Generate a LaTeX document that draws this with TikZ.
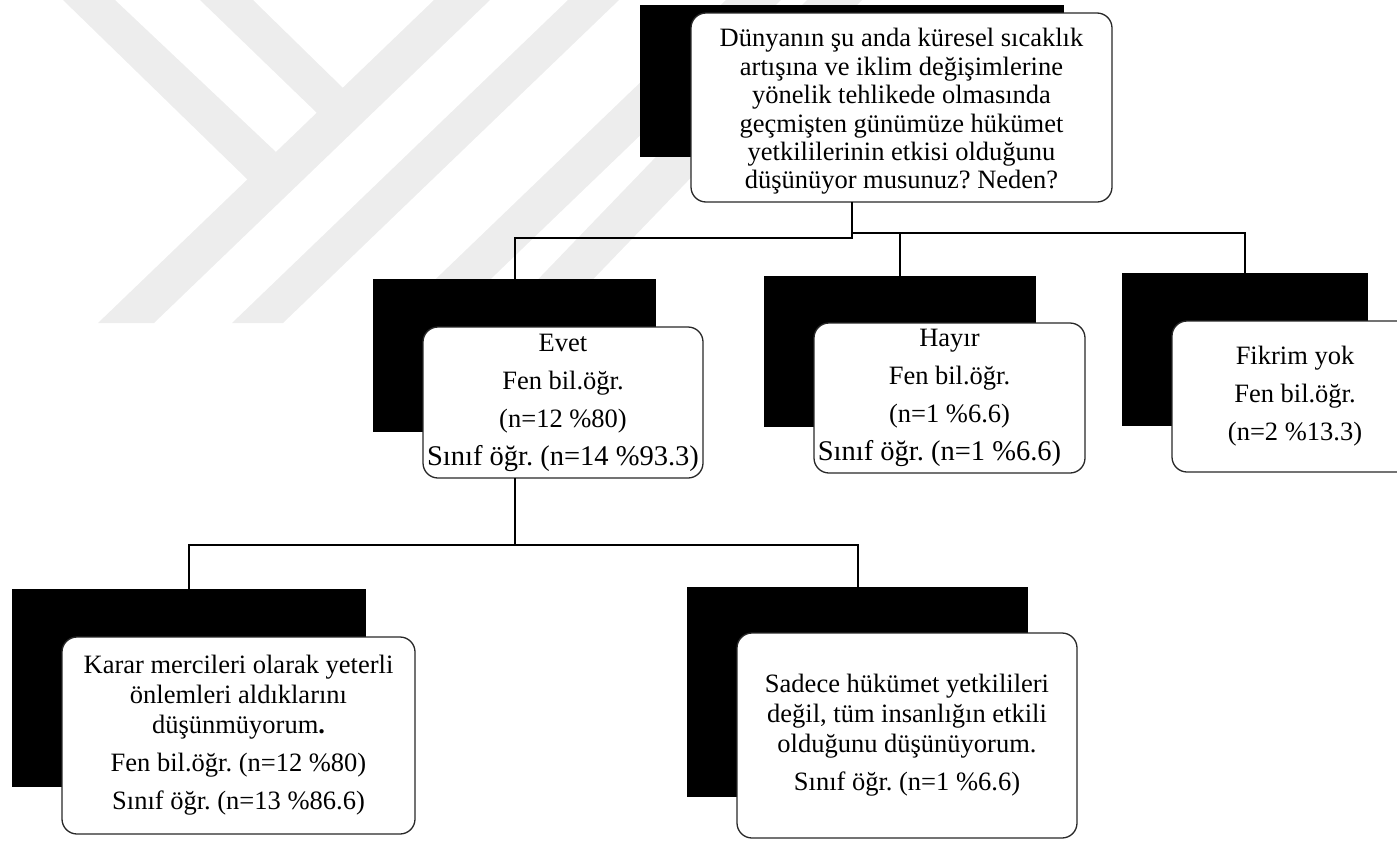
\documentclass[tikz,border=0pt]{standalone}
\usepackage{fontspec}
\setmainfont{Liberation Serif}
\frenchspacing
\definecolor{mark}{RGB}{237,237,237}
\definecolor{edge}{RGB}{40,40,40}
% slightly larger type for the count lines
\newcommand{\countline}[1]{{\fontsize{28.5}{30}\selectfont #1}}
\begin{document}
\begin{tikzpicture}[x=1pt,y=-1pt,
  shade box/.style={fill=black, draw=none, inner sep=0pt, outer sep=0pt},
  card/.style={draw=edge, line width=1.3pt, fill=white, rounded corners=15pt,
    inner sep=0pt, outer sep=0pt, align=center,
    font=\fontsize{26.5}{30}\selectfont},
  words/.style={inner sep=0pt, align=center, font=\fontsize{26.5}{28.4}\selectfont},
  link/.style={line width=2pt, black},
  band/.style={fill=mark, draw=none}]
\useasboundingbox (0,0) rectangle (1397,841);

% faint emblem in the background
\fill[band] (63,0) -- (115,0) -- (276,152) -- (248,180) -- cycle;
\fill[band] (200,0) -- (253,0) -- (343,88) -- (317,113) -- cycle;
\fill[band] (98,323) -- (154,323) -- (490,0) -- (434,0) -- cycle;
\fill[band] (232,323) -- (283,323) -- (619,0) -- (568,0) -- cycle;
\fill[band] (390,323) -- (445,323) -- (781,0) -- (726,0) -- cycle;
\fill[band] (496,323) -- (551,323) -- (862,0) -- (807,0) -- cycle;

% offset black panels
\node[shade box, minimum width=424pt, minimum height=152pt] (topS)    at (852,81)    {};
\node[shade box, minimum width=283pt, minimum height=153pt] (evetS)   at (514.5,355.5) {};
\node[shade box, minimum width=272pt, minimum height=151pt] (hayirS)  at (900,351.5) {};
\node[shade box, minimum width=246pt, minimum height=153pt] (fikS)    at (1245,349.5) {};
\node[shade box, minimum width=354pt, minimum height=198pt] (kararS)  at (189,688)   {};
\node[shade box, minimum width=341pt, minimum height=210pt] (sadeceS) at (857.5,692) {};

% text cards
\node[card, minimum width=421pt, minimum height=189pt] (top) at (901.5,107.5) {};
\node[words] (topT) at ([yshift=-4pt]top.center)
  {Dünyanın şu anda küresel sıcaklık\\ artışına ve iklim değişimlerine\\
   yönelik tehlikede olmasında\\ geçmişten günümüze hükümet\\
   yetkililerinin etkisi olduğunu\\ düşünüyor musunuz? Neden?};
\node[card, minimum width=280pt, minimum height=151pt] (evet) at (563,402.5)
  {Evet\\[8pt] Fen bil.öğr.\\[8pt] (n=12 \%80)\\[8pt] \countline{Sınıf öğr. (n=14 \%93.3)}};
\node[card, minimum width=271pt, minimum height=150pt] (hayir) at (949.5,398)
  {Hayır\\[8pt] Fen bil.öğr.\\[8pt] (n=1 \%6.6)\\[8pt]
   \countline{Sınıf öğr. (n=1 \%6.6)}\rule{20pt}{0pt}};
\node[card, minimum width=246pt, minimum height=151pt] (fik) at (1295,396.5)
  {Fikrim yok\\[8pt] Fen bil.öğr.\\[8pt] (n=2 \%13.3)};
\node[card, minimum width=353pt, minimum height=197pt] (karar) at (238.5,735.5)
  {Karar mercileri olarak yeterli\\ önlemleri aldıklarını\\ düşünmüyorum\textbf{.}\\[8pt]
   Fen bil.öğr. (n=12 \%80)\\[8pt] Sınıf öğr. (n=13 \%86.6)};
\node[card, minimum width=340pt, minimum height=205pt] (sadece) at (907,735.5)
  {Sadece hükümet yetkilileri\\ değil, tüm insanlığın etkili\\ olduğunu düşünüyorum.\\[8pt]
   Sınıf öğr. (n=1 \%6.6)};

% connectors
\coordinate (t1) at (852,238);
\coordinate (t2) at (852,233);
\coordinate (e1) at (514.5,545);
\draw[link] (topS.center |- top.south) -- (t1) -| (evetS.north);
\draw[link] (t2) -| (hayirS.north);
\draw[link] (t2) -| (fikS.north);
\draw[link] (evetS.center |- evet.south) -- (e1) -| (kararS.north);
\draw[link] (e1) -| (sadeceS.north);
\end{tikzpicture}
\end{document}
